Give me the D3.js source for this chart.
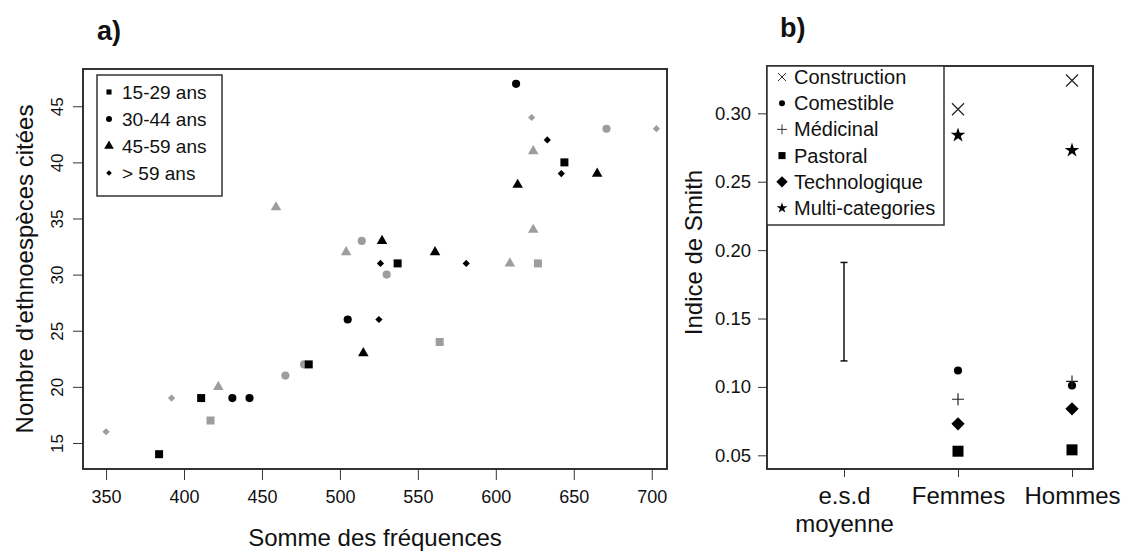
<!DOCTYPE html>
<html>
<head>
<meta charset="utf-8">
<script src="https://cdn.jsdelivr.net/npm/d3@7"></script>
<style>
  body { margin: 0; background: #fff; }
  svg { font-family: "Liberation Sans", Arial, sans-serif; }
</style>
</head>
<body>
<svg id="chart" width="1128" height="551"></svg>
<script>
// ---- panel a) data: one entry per informant ----
const ageClasses = ["15-29 ans", "30-44 ans", "45-59 ans", "> 59 ans"];
const freq =   [384, 411, 480, 537, 644,  417, 564, 627,
                431, 442, 505, 613,  465, 477, 514, 530, 671,
                515, 527, 561, 614, 665,  422, 459, 504, 609, 624, 624,
                525, 526, 581, 633, 642,  350, 392, 623, 703];
const especes = [14, 19, 22, 31, 40,  17, 24, 31,
                 19, 19, 26, 47,  21, 22, 33, 30, 43,
                 23, 33, 32, 38, 39,  20, 36, 32, 31, 41, 34,
                 26, 31, 31, 42, 39,  16, 19, 44, 43];
const ageOf =  [0, 0, 0, 0, 0,  0, 0, 0,
                1, 1, 1, 1,  1, 1, 1, 1, 1,
                2, 2, 2, 2, 2,  2, 2, 2, 2, 2, 2,
                3, 3, 3, 3, 3,  3, 3, 3, 3];
const teinte = ["noir","noir","noir","noir","noir", "gris","gris","gris",
                "noir","noir","noir","noir", "gris","gris","gris","gris","gris",
                "noir","noir","noir","noir","noir", "gris","gris","gris","gris","gris","gris",
                "noir","noir","noir","noir","noir", "gris","gris","gris","gris"];
const xTicksA = [350, 400, 450, 500, 550, 600, 650, 700];
const yTicksA = [15, 20, 25, 30, 35, 40, 45];

// ---- panel b) data: Smith index per use category ----
const usages = ["Construction", "Comestible", "Médicinal", "Pastoral", "Technologique", "Multi-categories"];
const groupes = ["e.s.d moyenne", "Femmes", "Hommes"];
const smithFemmes = [0.303, 0.112, 0.091, 0.053, 0.073, 0.284];
const smithHommes = [0.324, 0.101, 0.104, 0.054, 0.084, 0.273];
const esdMoyenne = [0.119, 0.191];
const yTicksB = [0.05, 0.10, 0.15, 0.20, 0.25, 0.30];

const svg = d3.select("#chart");
const INK = "#111", AXIS = "#333", GREY = "#9d9d9d";

// extra symbol shapes (R-like pch 3, 4 and 18)
const symPlus = { draw(c, s) { const r = Math.sqrt(s) / 2; c.moveTo(-r, 0); c.lineTo(r, 0); c.moveTo(0, -r); c.lineTo(0, r); } };
const symTimes = { draw(c, s) { const r = Math.sqrt(s) / 2; c.moveTo(-r, -r); c.lineTo(r, r); c.moveTo(-r, r); c.lineTo(r, -r); } };
const symLosange = { draw(c, s) { const r = Math.sqrt(s / 2); c.moveTo(0, -r); c.lineTo(r, 0); c.lineTo(0, r); c.lineTo(-r, 0); c.closePath(); } };

// ================= panel a =================
const A = { left: 83, top: 69, right: 667, bottom: 469 };
const xa = d3.scaleLinear().domain([335.2, 709.8]).range([A.left, A.right]);
const ya = d3.scaleLinear().domain([12.68, 48.32]).range([A.bottom, A.top]);
const ageSym = [d3.symbolSquare, d3.symbolCircle, d3.symbolTriangle, symLosange];
const ageSize = [64, 52, 48, 26];

const gxa = svg.append("g").attr("transform", `translate(0,${A.bottom})`)
  .call(d3.axisBottom(xa).tickValues(xTicksA).tickSize(11).tickSizeOuter(0));
gxa.select(".domain").remove();
gxa.selectAll("line").attr("stroke", AXIS);
gxa.selectAll("text").attr("y", 34).attr("dy", 0).attr("font-size", 18).attr("fill", INK);

const gya = svg.append("g").attr("transform", `translate(${A.left},0)`)
  .call(d3.axisLeft(ya).tickValues(yTicksA).tickSize(10).tickSizeOuter(0));
gya.select(".domain").remove();
gya.selectAll("line").attr("stroke", AXIS);
gya.selectAll("text").attr("transform", "rotate(-90)").attr("x", 0).attr("y", -20).attr("dy", 0)
  .attr("text-anchor", "middle").attr("font-size", 17).attr("fill", INK);

svg.append("rect").attr("x", A.left).attr("y", A.top)
  .attr("width", A.right - A.left).attr("height", A.bottom - A.top)
  .attr("fill", "none").attr("stroke", AXIS).attr("stroke-width", 2);

const ptsA = freq.map((f, i) => ({ f, e: especes[i], a: ageOf[i], t: teinte[i] }))
  .sort((p, q) => (p.t === "gris" ? 0 : 1) - (q.t === "gris" ? 0 : 1));
svg.append("g").selectAll("path").data(ptsA).join("path")
  .attr("transform", d => `translate(${xa(d.f)},${ya(d.e)})`)
  .attr("d", d => d3.symbol(ageSym[d.a], ageSize[d.a])())
  .attr("fill", d => d.t === "gris" ? GREY : "#000");

// legend a
const legA = svg.append("g");
legA.append("rect").attr("x", 97).attr("y", 75).attr("width", 125).attr("height", 121)
  .attr("fill", "#fff").attr("stroke", AXIS).attr("stroke-width", 1.5);
const legSizeA = [26, 28, 40, 16];
ageClasses.forEach((lab, i) => {
  const cy = 92 + i * 27;
  legA.append("path").attr("transform", `translate(109,${cy})`)
    .attr("d", d3.symbol(ageSym[i], legSizeA[i])()).attr("fill", "#000");
  legA.append("text").attr("x", 122).attr("y", cy + 7).attr("font-size", 19).attr("fill", INK).text(lab);
});

svg.append("text").attr("x", (A.left + A.right) / 2).attr("y", 546).attr("text-anchor", "middle")
  .attr("font-size", 24).attr("fill", INK).text("Somme des fréquences");
svg.append("text").attr("transform", `translate(33,${(A.top + A.bottom) / 2}) rotate(-90)`)
  .attr("text-anchor", "middle").attr("font-size", 24).attr("fill", INK).text("Nombre d'ethnoespèces citées");
svg.append("text").attr("x", 97).attr("y", 40).attr("font-size", 27).attr("font-weight", "bold")
  .attr("fill", INK).text("a)");

// ================= panel b =================
const B = { left: 767, top: 66, right: 1093, bottom: 469 };
const xb = d3.scalePoint().domain(groupes).range([B.left + 77, B.right - 21]);
const yb = d3.scaleLinear().domain([0.04, 0.3346]).range([B.bottom, B.top]);
const useSym = [symTimes, d3.symbolCircle, symPlus, d3.symbolSquare, symLosange, d3.symbolStar];
const useSize = [144, 52, 144, 121, 88, 66];
const useStroke = [true, false, true, false, false, false];

const gyb = svg.append("g").attr("transform", `translate(${B.left},0)`)
  .call(d3.axisLeft(yb).tickValues(yTicksB).tickFormat(d3.format(".2f")).tickSize(9).tickSizeOuter(0));
gyb.select(".domain").remove();
gyb.selectAll("line").attr("stroke", AXIS);
gyb.selectAll("text").attr("x", -16).attr("font-size", 18.5).attr("fill", INK);

const gxb = svg.append("g").attr("transform", `translate(0,${B.bottom})`)
  .call(d3.axisBottom(xb).tickSize(8).tickSizeOuter(0));
gxb.select(".domain").remove();
gxb.selectAll("line").attr("stroke", AXIS);
gxb.selectAll("text").remove();
gxb.selectAll(".tick").each(function (d) {
  const t = d3.select(this).append("text").attr("text-anchor", "middle")
    .attr("font-size", 24).attr("fill", INK);
  d.split(" ").forEach((w, k) => t.append("tspan").attr("x", 0).attr("y", 35 + k * 28).text(w));
});

svg.append("rect").attr("x", B.left).attr("y", B.top)
  .attr("width", B.right - B.left).attr("height", B.bottom - B.top)
  .attr("fill", "none").attr("stroke", AXIS).attr("stroke-width", 2);

// error bar (e.s.d moyenne)
const ex = xb(groupes[0]);
const eb = svg.append("g").attr("stroke", INK).attr("stroke-width", 1.5);
eb.append("line").attr("x1", ex).attr("x2", ex).attr("y1", yb(esdMoyenne[0])).attr("y2", yb(esdMoyenne[1]));
esdMoyenne.forEach(v => eb.append("line").attr("x1", ex - 3.5).attr("x2", ex + 3.5)
  .attr("y1", yb(v)).attr("y2", yb(v)));

const ptsB = [];
usages.forEach((u, i) => {
  ptsB.push({ g: "Femmes", i, v: smithFemmes[i] });
  ptsB.push({ g: "Hommes", i, v: smithHommes[i] });
});
svg.append("g").selectAll("path").data(ptsB).join("path")
  .attr("transform", d => `translate(${xb(d.g)},${yb(d.v)})`)
  .attr("d", d => d3.symbol(useSym[d.i], useSize[d.i])())
  .attr("fill", d => useStroke[d.i] ? "none" : "#000")
  .attr("stroke", d => useStroke[d.i] ? "#222" : "none")
  .attr("stroke-width", 1.2);

// legend b
const legB = svg.append("g");
legB.append("rect").attr("x", B.left).attr("y", B.top).attr("width", 177).attr("height", 159)
  .attr("fill", "#fff").attr("stroke", AXIS).attr("stroke-width", 1.5);
const legSizeB = [64, 28, 100, 50, 64, 36];
usages.forEach((u, i) => {
  const cy = 77 + i * 26.2;
  legB.append("path").attr("transform", `translate(782,${cy})`)
    .attr("d", d3.symbol(useSym[i], legSizeB[i])())
    .attr("fill", useStroke[i] ? "none" : "#000")
    .attr("stroke", useStroke[i] ? "#333" : "none").attr("stroke-width", 1);
  legB.append("text").attr("x", 794).attr("y", cy + 7).attr("font-size", 20).attr("fill", INK).text(u);
});

svg.append("text").attr("transform", `translate(702,${(B.top + B.bottom) / 2 - 15}) rotate(-90)`)
  .attr("text-anchor", "middle").attr("font-size", 24).attr("fill", INK).text("Indice de Smith");
svg.append("text").attr("x", 780).attr("y", 37).attr("font-size", 27).attr("font-weight", "bold")
  .attr("fill", INK).text("b)");
</script>
</body>
</html>
